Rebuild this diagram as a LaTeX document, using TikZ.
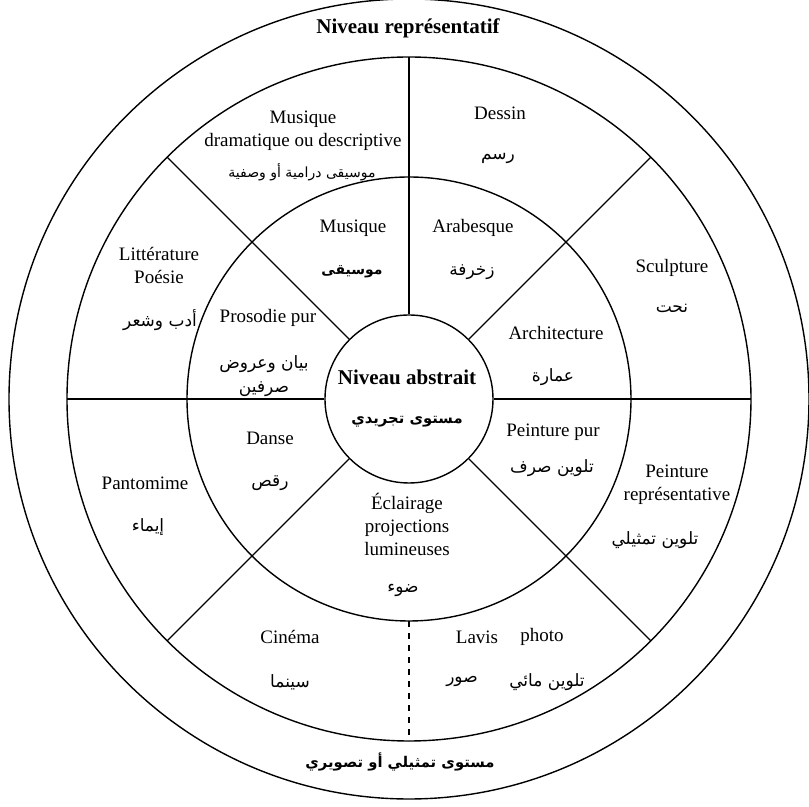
\documentclass[tikz,border=0pt]{standalone}
\usepackage{fontspec}
\setmainfont{Liberation Serif}
\newfontfamily\arabicfont[Script=Arabic]{DejaVu Sans}
\TeXXeTstate=1
\newcommand{\artxt}[1]{\beginR #1\endR}

\begin{document}
\begin{tikzpicture}[x=0.5pt, y=0.5pt,
    cell/.style={font=\fontsize{9.5}{11.5}\selectfont, align=center, inner sep=0pt},
    arcell/.style={font=\fontsize{8.5}{12}\selectfont\arabicfont, align=center, inner sep=0pt},
    level/.style={font=\fontsize{10.5}{12}\selectfont\bfseries, inner sep=0pt},
    arlevel/.style={font=\fontsize{7.4}{12}\selectfont\arabicfont\bfseries, inner sep=0pt},
    ring/.style={line width=0.7pt}]

    \useasboundingbox (-409,-408) rectangle (400,399);

    % circles
    \node[circle, draw, ring, minimum size=84pt, inner sep=0pt] (abstrait) at (0,0) {};
    \draw[ring] (0,0) circle[radius=222];
    \draw[ring] (0,0) circle[radius=342];
    \draw[ring] (0,0) circle[radius=400];

    % sector lines
    \foreach \a in {0,45,90,135,180,225,315}
        \draw[ring] (abstrait.\a) -- (\a:342);
    \coordinate (cut1) at (270:222);
    \coordinate (cut2) at (270:342);
    \draw[ring, dashed] (cut1) -- (cut2);

    % levels
    \node[level] (repr) at (-1,371) {Niveau représentatif};
    \node[arlevel] (reprar) at (-9,-363) {\artxt{مستوى تمثيلي أو تصويري}};
    \node[level] (abs) at (-2,22) {Niveau abstrait};
    \node[arlevel] (absar) at (-2,-23) {\artxt{مستوى تجريدي}};

    % inner ring
    \node[cell] (musique) at (-56,171) {Musique};
    \node[arlevel, font=\fontsize{7}{12}\selectfont\arabicfont\bfseries] (musiquear) at (-57,127) {\artxt{موسيقى}};
    \node[cell] (arabesque) at (64,171) {Arabesque};
    \node[arcell] (arabesquear) at (63,127) {\artxt{زخرفة}};
    \node[cell] (archi) at (147,66) {Architecture};
    \node[arcell] (archiar) at (144,22) {\artxt{عمارة}};
    \node[cell] (peintpur) at (144,-33) {Peinture pur};
    \node[arcell] (peintpurar) at (143,-69) {\artxt{تلوين صرف}};
    \node[cell] (eclairage) at (-2,-125) {Éclairage\\projections\\lumineuses};
    \node[arcell] (eclairagear) at (-6,-191) {\artxt{ضوء}};
    \node[cell] (danse) at (-139,-39) {Danse};
    \node[arcell] (dansear) at (-139,-84) {\artxt{رقص}};
    \node[cell] (prosodie) at (-141,81) {Prosodie pur};
    \node[arcell] (prosodiear) at (-145,23) {\artxt{بيان وعروض}\\\artxt{صرفين}};

    % outer ring
    \node[cell] (musdram) at (-106,268) {Musique\\dramatique ou descriptive};
    \node[arcell, font=\fontsize{7}{12}\selectfont\arabicfont] (musdramar) at (-107,227) {\artxt{موسيقى درامية أو وصفية}};
    \node[cell] (dessin) at (91,286) {Dessin};
    \node[arcell] (dessinar) at (89,241) {\artxt{رسم}};
    \node[cell] (sculpture) at (263,131) {Sculpture};
    \node[arcell] (sculpturear) at (263,91) {\artxt{نحت}};
    \node[cell] (peintrepr) at (268,-86) {Peinture\\représentative};
    \node[arcell] (peintreprar) at (246,-141) {\artxt{تلوين تمثيلي}};
    \node[cell] (cinema) at (-119,-238) {Cinéma};
    \node[arcell] (cinemaar) at (-119,-283) {\artxt{سينما}};
    \node[cell] (lavis) at (68,-238) {Lavis};
    \node[cell] (photo) at (133,-238) {photo};
    \node[arcell] (photoar) at (53,-283) {\artxt{صور}};
    \node[arcell] (lavisar) at (138,-283) {\artxt{تلوين مائي}};
    \node[cell] (pantomime) at (-264,-84) {Pantomime};
    \node[arcell] (pantomimear) at (-261,-128) {\artxt{إيماء}};
    \node[cell] (litt) at (-250,134) {Littérature\\Poésie};
    \node[arcell] (littar) at (-249,79) {\artxt{أدب وشعر}};
\end{tikzpicture}
\end{document}
